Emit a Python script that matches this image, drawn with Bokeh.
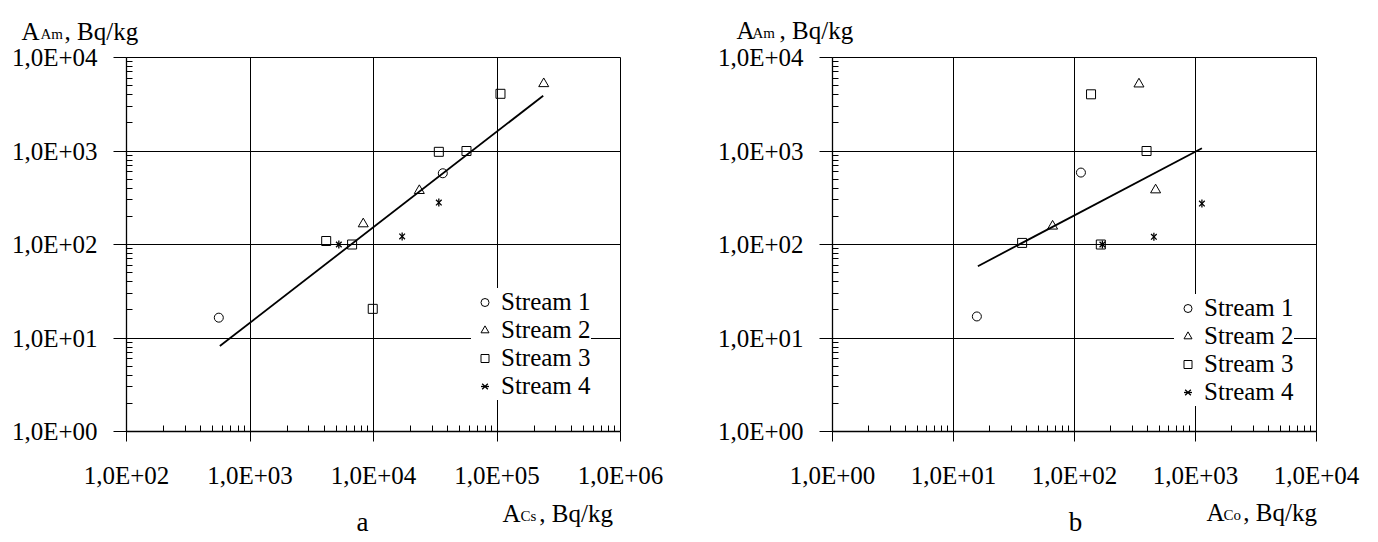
import math
from bokeh.plotting import figure
from bokeh.layouts import row
from bokeh.models import FixedTicker, Label, Legend, LegendItem, Range1d
from bokeh.embed import file_html
from bokeh.resources import INLINE

FONT = "Liberation Serif"
NB = "\u00a0"

# ---------------- data ----------------
# panel a: A_Am vs A_Cs
a_s1_x = [559, 36400]
a_s1_y = [16.5, 578]
a_s2_x = [8260, 23500, 239000]
a_s2_y = [166, 377, 5240]
a_s3_x = [4140, 6710, 9860, 33800, 56600, 106700]
a_s3_y = [109, 100, 20.5, 980, 1000, 4090]
a_s4_x = [5240, 17060, 33800]
a_s4_y = [100, 122, 281]
a_fit_x = [570, 236700]
a_fit_y = [8.2, 3900]

# panel b: A_Am vs A_Co
b_s1_x = [15.6, 113]
b_s1_y = [17.0, 588]
b_s2_x = [65.9, 341, 468]
b_s2_y = [157, 5200, 383]
b_s3_x = [36.9, 137, 394, 165]
b_s3_y = [104, 4040, 1000, 100]
b_s4_x = [170, 453, 1130]
b_s4_y = [100, 121, 274]
b_fit_x = [15.9, 1130]
b_fit_y = [58.6, 1070]

# tick labels
a_x_ticks = [1e2, 1e3, 1e4, 1e5, 1e6]
a_x_labels = ["1,0E+02", "1,0E+03", "1,0E+04", "1,0E+05", "1,0E+06"]
b_x_ticks = [1e0, 1e1, 1e2, 1e3, 1e4]
b_x_labels = ["1,0E+00", "1,0E+01", "1,0E+02", "1,0E+03", "1,0E+04"]
y_ticks = [1e0, 1e1, 1e2, 1e3, 1e4]
y_labels = ["1,0E+00", "1,0E+01", "1,0E+02", "1,0E+03", "1,0E+04"]
series_names = ["Stream 1", "Stream 2", "Stream 3", "Stream 4"]

FIG_H = 540


def minor(ticks):
    out = []
    for t in ticks[:-1]:
        out += [t * k for k in range(2, 10)]
    return out


def lab(p, side, x, y, dx, dy, text, size, align="left"):
    p.add_layout(Label(x=x, y=y, x_units="data", y_units="data", x_offset=dx, y_offset=dy,
                       text=text, text_font=FONT, text_font_size=size, text_color="black",
                       text_baseline="alphabetic", text_align=align), side)


def panel(sx, sy, fit_x, fit_y, xt, xl, width, bl, br, bt, bb, ytitle, xtitle, sub, letter, lloc):
    p = figure(width=width, height=FIG_H, x_axis_type="log", y_axis_type="log",
               x_range=Range1d(xt[0], xt[-1]), y_range=Range1d(y_ticks[0], y_ticks[-1]),
               output_backend="svg", toolbar_location=None,
               min_border_left=bl, min_border_right=br, min_border_top=bt, min_border_bottom=bb)
    p.background_fill_color = "white"
    p.border_fill_color = "white"
    p.outline_line_color = "black"
    p.outline_line_width = 1

    xtick = FixedTicker(ticks=xt, minor_ticks=minor(xt))
    ytick = FixedTicker(ticks=y_ticks, minor_ticks=minor(y_ticks))
    p.xaxis.ticker = xtick
    p.yaxis.ticker = ytick
    p.xgrid.ticker = xtick
    p.ygrid.ticker = ytick
    p.xaxis.major_label_overrides = {float(t): s for t, s in zip(xt, xl)}
    p.yaxis.major_label_overrides = {float(t): s for t, s in zip(y_ticks, y_labels)}
    for g in (p.xgrid[0], p.ygrid[0]):
        g.grid_line_color = "black"
        g.grid_line_width = 1
        g.minor_grid_line_color = None
    for ax in (p.xaxis[0], p.yaxis[0]):
        ax.axis_line_color = "black"
        ax.axis_line_width = 1.3
        ax.major_tick_line_color = "black"
        ax.minor_tick_line_color = "black"
        ax.major_tick_in = 0
        ax.minor_tick_in = 6
        ax.minor_tick_out = 0
        ax.major_label_text_font = FONT
        ax.major_label_text_font_size = "25px"
        ax.major_label_text_color = "black"
    p.xaxis.major_tick_out = 10
    p.yaxis.major_tick_out = 13
    p.xaxis.major_label_standoff = 20
    p.yaxis.major_label_standoff = 16

    kw = dict(fill_color=None, line_color="black", line_width=1)
    r1 = p.scatter(sx[0], sy[0], marker="circle", size=9, **kw)
    r2 = p.scatter(sx[1], sy[1], marker="triangle", size=10, **kw)
    r3 = p.scatter(sx[2], sy[2], marker="square", size=9, **kw)
    r4a = p.scatter(sx[3], sy[3], marker="x", size=8, line_color="black", line_width=1.3)
    r4b = p.scatter(sx[3], sy[3], marker="dash", angle=math.pi / 2, size=8,
                    line_color="black", line_width=1.3)
    p.line(fit_x, fit_y, line_color="black", line_width=1.8)

    legend = Legend(items=[LegendItem(label=series_names[0], renderers=[r1]),
                           LegendItem(label=series_names[1], renderers=[r2]),
                           LegendItem(label=series_names[2], renderers=[r3]),
                           LegendItem(label=series_names[3], renderers=[r4a, r4b])],
                    location=lloc)
    legend.background_fill_color = "white"
    legend.background_fill_alpha = 1
    legend.border_line_color = None
    legend.padding = 5
    legend.spacing = 0
    legend.margin = 0
    legend.label_height = 27
    legend.glyph_width = 27
    legend.glyph_height = 20
    legend.label_standoff = 3
    legend.label_text_font = FONT
    legend.label_text_font_size = "25px"
    legend.label_text_color = "black"
    p.add_layout(legend)

    x0, x1 = xt[0], xt[-1]
    y0, y1 = y_ticks[0], y_ticks[-1]
    # y-axis title (top-left): main text with a gap for the subscript
    (ya, yb, ybase) = ytitle
    lab(p, "above", x0, y1, ya, ybase, "A" + NB * 4 + ", Bq/kg", "25px")
    lab(p, "above", x0, y1, yb, ybase - 2, "Am", "15px")
    # x-axis title (bottom-right)
    (xa, xb, xbase, ngap) = xtitle
    lab(p, "below", x1, y0, xa, xbase, "A" + NB * ngap + ", Bq/kg", "25px")
    lab(p, "right", x1, y0, xb, xbase - 2, sub, "15px")
    # panel letter
    lab(p, "right", x0, y0, letter[1], -90, letter[0], "27px", align="center")
    return p


pa = panel([a_s1_x, a_s2_x, a_s3_x, a_s4_x], [a_s1_y, a_s2_y, a_s3_y, a_s4_y],
           a_fit_x, a_fit_y, a_x_ticks, a_x_labels, 708, 126, 88, 56, FIG_H - 431,
           (-105, -86, 26), (-118, -100, -82, 3), "Cs", ("a", 236), (345, 31))
pb = panel([b_s1_x, b_s2_x, b_s3_x, b_s4_x], [b_s1_y, b_s2_y, b_s3_y, b_s4_y],
           b_fit_x, b_fit_y, b_x_ticks, b_x_labels, 662, 124, 54, 57, FIG_H - 432,
           (-96, -80, 27), (-110, -93, -81, 3), "Co", ("b", 243), (342, 25))

layout = row(pa, pb)
open("out.html", "w").write(file_html(layout, INLINE))
